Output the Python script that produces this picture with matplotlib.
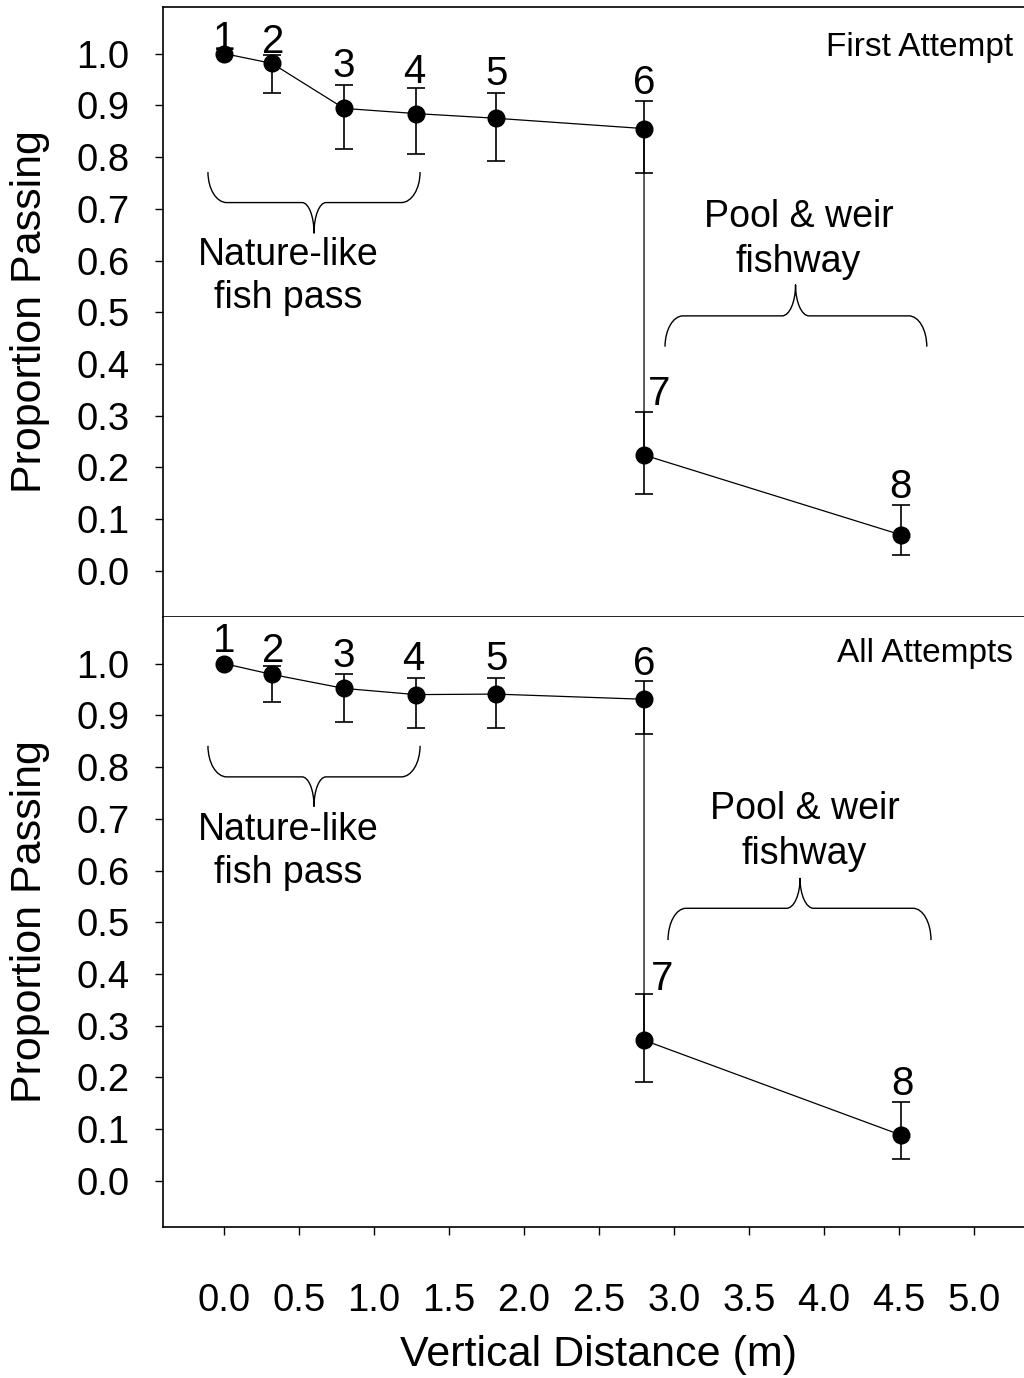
import matplotlib
matplotlib.use("Agg")
import matplotlib.pyplot as plt
from matplotlib.path import Path
from matplotlib.patches import PathPatch
import numpy as np

plt.rcParams['font.family'] = ['Liberation Sans', 'DejaVu Sans']

# ---------------- data ----------------
site_labels = ['1', '2', '3', '4', '5', '6', '7', '8']
vertical_distance = [0.0, 0.32, 0.80, 1.28, 1.81, 2.80, 2.80, 4.51]

first_prop = [1.0, 0.981, 0.894, 0.884, 0.875, 0.855, 0.224, 0.070]
first_hi = [1.0, 0.997, 0.939, 0.933, 0.924, 0.909, 0.308, 0.128]
first_lo = [1.0, 0.924, 0.815, 0.805, 0.792, 0.770, 0.149, 0.031]

all_prop = [1.0, 0.979, 0.952, 0.940, 0.941, 0.931, 0.272, 0.089]
all_hi = [1.0, 0.995, 0.979, 0.973, 0.973, 0.967, 0.361, 0.152]
all_lo = [1.0, 0.925, 0.887, 0.876, 0.876, 0.863, 0.191, 0.043]

y_ticks = [0.0, 0.1, 0.2, 0.3, 0.4, 0.5, 0.6, 0.7, 0.8, 0.9, 1.0]
x_ticks = [0.0, 0.5, 1.0, 1.5, 2.0, 2.5, 3.0, 3.5, 4.0, 4.5, 5.0]

# ---------------- layout (annotation placement) ----------------
W, H = 1024, 1378
fig = plt.figure(figsize=(W / 100, H / 100), dpi=100)

left_px, right_px = 163, 1024
top_panel = (7, 617)
bot_panel = (617, 1227)
xlim = (-0.4067, 5.333)
ylim = (-0.089, 1.09)

def make_ax(top, bottom):
    return fig.add_axes([left_px / W, 1 - bottom / H, (right_px - left_px) / W, (bottom - top) / H])

ax1 = make_ax(*top_panel)
ax2 = make_ax(*bot_panel)

lab_x_first = [0.0, 0.325, 0.80, 1.27, 1.82, 2.80, 2.90, 4.51]
lab_y_first = [1.007, 1.001, 0.955, 0.943, 0.939, 0.921, 0.321, 0.141]
lab_x_all = [0.0, 0.325, 0.80, 1.26, 1.82, 2.80, 2.92, 4.52]
lab_y_all = [1.022, 1.003, 0.993, 0.987, 0.987, 0.977, 0.369, 0.166]


def brace(ax, x0, x1, x_tip, y_end, y_mid, y_tip, r=0.125, r2=0.08):
    k = 0.552
    verts = [
        (x0, y_end),
        (x0, y_end + k * (y_mid - y_end)), (x0 + r - k * r, y_mid), (x0 + r, y_mid),
        (x_tip - r2, y_mid),
        (x_tip - r2 + k * r2, y_mid), (x_tip, y_mid + (1 - k) * (y_tip - y_mid)), (x_tip, y_tip),
        (x_tip, y_mid + (1 - k) * (y_tip - y_mid)), (x_tip + r2 - k * r2, y_mid), (x_tip + r2, y_mid),
        (x1 - r, y_mid),
        (x1 - r + k * r, y_mid), (x1, y_end + k * (y_mid - y_end)), (x1, y_end),
    ]
    codes = [Path.MOVETO,
             Path.CURVE4, Path.CURVE4, Path.CURVE4,
             Path.LINETO,
             Path.CURVE4, Path.CURVE4, Path.CURVE4,
             Path.CURVE4, Path.CURVE4, Path.CURVE4,
             Path.LINETO,
             Path.CURVE4, Path.CURVE4, Path.CURVE4]
    ax.add_patch(PathPatch(Path(verts, codes), fill=False, lw=1.0, color='black',
                           clip_on=False, joinstyle='round'))


def panel(ax, prop, lo, hi, lab_x, lab_y, title, title_y):
    x = np.array(vertical_distance)
    p = np.array(prop)
    lo = np.array(lo)
    hi = np.array(hi)
    has_err = hi > lo
    ax.errorbar(x[has_err], p[has_err], yerr=[p[has_err] - lo[has_err], hi[has_err] - p[has_err]],
                fmt='none', ecolor='black', elinewidth=1.2, capsize=6.5, capthick=1.2, zorder=2)
    ax.plot(x, p, '-', color='black', lw=0.9, marker='o', ms=12, mfc='black', mec='black', zorder=3)
    for s, lx, ly in zip(site_labels, lab_x, lab_y):
        ax.text(lx, ly, s, ha='center', va='baseline', fontsize=29)
    ax.text(1013 / 150 - 224 / 150, title_y, title, ha='right', va='center', fontsize=24)
    ax.set_xlim(*xlim)
    ax.set_ylim(*ylim)
    ax.set_yticks(y_ticks)
    ax.set_yticklabels([f'{v:.1f}' for v in y_ticks], fontsize=27.5)
    ax.tick_params(axis='y', direction='out', length=6, width=1, pad=18)
    ax.spines['right'].set_visible(False)
    for sp in ax.spines.values():
        sp.set_linewidth(1.2)


panel(ax1, first_prop, first_lo, first_hi, lab_x_first, lab_y_first, 'First Attempt', 1.0125)
panel(ax2, all_prop, all_lo, all_hi, lab_x_all, lab_y_all, 'All Attempts', 1.02)

ax1.set_xticks([])
ax1.spines['top'].set_visible(True)
ax2.spines['top'].set_visible(False)

ax2.set_xticks(x_ticks)
ax2.set_xticklabels([f'{v:.1f}' for v in x_ticks], fontsize=27.5)
ax2.tick_params(axis='x', direction='out', length=6, width=1, pad=34)

# braces and group labels
brace(ax1, -0.107, 1.307, 0.60, 0.771, 0.712, 0.653)
ax1.text(0.43, 0.570, 'Nature-like\nfish pass', ha='center', va='center', fontsize=27, linespacing=1.25)
brace(ax1, 2.94, 4.685, 3.81, 0.4335, 0.493, 0.553, r=0.12, r2=0.09)
ax1.text(3.83, 0.6415, 'Pool & weir\nfishway', ha='center', va='center', fontsize=27, linespacing=1.32)

brace(ax2, -0.107, 1.307, 0.60, 0.841, 0.781, 0.724)
ax2.text(0.43, 0.636, 'Nature-like\nfish pass', ha='center', va='center', fontsize=27, linespacing=1.25)
brace(ax2, 2.96, 4.713, 3.84, 0.4655, 0.527, 0.585, r=0.12, r2=0.09)
ax2.text(3.87, 0.675, 'Pool & weir\nfishway', ha='center', va='center', fontsize=27, linespacing=1.32)

# axis titles
fig.text(30 / W, 1 - 312 / H, 'Proportion Passing', rotation=90, ha='center', va='center', fontsize=31)
fig.text(30 / W, 1 - 922 / H, 'Proportion Passing', rotation=90, ha='center', va='center', fontsize=31)
fig.text(599 / W, 1 - 1355 / H, 'Vertical Distance (m)', ha='center', va='center', fontsize=31)

fig.savefig('out.png', dpi=100)
